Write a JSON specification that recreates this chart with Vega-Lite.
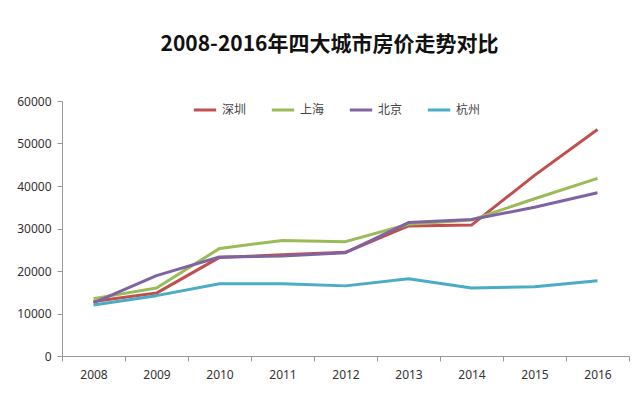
{
  "$schema": "https://vega.github.io/schema/vega-lite/v6.json",
  "width": 567,
  "height": 255,
  "autosize": "none",
  "padding": {"left": 62, "top": 101, "right": 11, "bottom": 37},
  "background": "white",
  "title": {
    "text": "2008-2016年四大城市房价走势对比",
    "font": "Noto Sans CJK SC",
    "fontSize": 21,
    "fontWeight": "bold",
    "color": "#111111",
    "anchor": "middle",
    "dx": -16,
    "offset": 40
  },
  "data": {
    "values": [
      {"year": "2008", "city": "深圳", "price": 12800},
      {"year": "2009", "city": "深圳", "price": 14800},
      {"year": "2010", "city": "深圳", "price": 23200},
      {"year": "2011", "city": "深圳", "price": 23800},
      {"year": "2012", "city": "深圳", "price": 24400},
      {"year": "2013", "city": "深圳", "price": 30600},
      {"year": "2014", "city": "深圳", "price": 30800},
      {"year": "2015", "city": "深圳", "price": 42500},
      {"year": "2016", "city": "深圳", "price": 53300},
      {"year": "2008", "city": "上海", "price": 13500},
      {"year": "2009", "city": "上海", "price": 16000},
      {"year": "2010", "city": "上海", "price": 25300},
      {"year": "2011", "city": "上海", "price": 27200},
      {"year": "2012", "city": "上海", "price": 26900},
      {"year": "2013", "city": "上海", "price": 31000},
      {"year": "2014", "city": "上海", "price": 32000},
      {"year": "2015", "city": "上海", "price": 37000},
      {"year": "2016", "city": "上海", "price": 41800},
      {"year": "2008", "city": "北京", "price": 12500},
      {"year": "2009", "city": "北京", "price": 18900},
      {"year": "2010", "city": "北京", "price": 23300},
      {"year": "2011", "city": "北京", "price": 23500},
      {"year": "2012", "city": "北京", "price": 24300},
      {"year": "2013", "city": "北京", "price": 31400},
      {"year": "2014", "city": "北京", "price": 32100},
      {"year": "2015", "city": "北京", "price": 35000},
      {"year": "2016", "city": "北京", "price": 38400},
      {"year": "2008", "city": "杭州", "price": 12000},
      {"year": "2009", "city": "杭州", "price": 14200},
      {"year": "2010", "city": "杭州", "price": 17000},
      {"year": "2011", "city": "杭州", "price": 17000},
      {"year": "2012", "city": "杭州", "price": 16500},
      {"year": "2013", "city": "杭州", "price": 18200},
      {"year": "2014", "city": "杭州", "price": 16000},
      {"year": "2015", "city": "杭州", "price": 16300},
      {"year": "2016", "city": "杭州", "price": 17700}
    ]
  },
  "mark": {"type": "line", "strokeWidth": 3, "strokeJoin": "round"},
  "encoding": {
    "x": {
      "field": "year",
      "type": "ordinal",
      "scale": {"type": "band", "paddingInner": 0, "paddingOuter": 0},
      "axis": {
        "title": null,
        "labelAngle": 0,
        "labelFont": "Noto Sans",
        "labelFontSize": 12,
        "labelColor": "#333333",
        "labelPadding": 8,
        "domainColor": "#999999",
        "tickColor": "#999999",
        "tickBand": "extent",
        "tickSize": 5,
        "grid": false
      }
    },
    "y": {
      "field": "price",
      "type": "quantitative",
      "scale": {"domain": [0, 60000], "nice": false},
      "axis": {
        "title": null,
        "values": [0, 10000, 20000, 30000, 40000, 50000, 60000],
        "format": "d",
        "labelFont": "Noto Sans",
        "labelFontSize": 12,
        "labelColor": "#333333",
        "labelPadding": 6,
        "domainColor": "#999999",
        "tickColor": "#999999",
        "tickSize": 5,
        "grid": false
      }
    },
    "color": {
      "field": "city",
      "type": "nominal",
      "sort": ["深圳", "上海", "北京", "杭州"],
      "scale": {
        "domain": ["深圳", "上海", "北京", "杭州"],
        "range": ["#C0504D", "#9BBB59", "#8064A2", "#4BACC6"]
      },
      "legend": {
        "title": null,
        "orient": "none",
        "direction": "horizontal",
        "legendX": 130,
        "legendY": -4,
        "symbolType": "stroke",
        "symbolStrokeWidth": 3,
        "symbolSize": 500,
        "labelFont": "Noto Sans CJK SC",
        "labelFontSize": 12,
        "labelColor": "#444444",
        "columnPadding": 18,
        "labelOffset": 4
      }
    }
  },
  "config": {"view": {"stroke": null}}
}
